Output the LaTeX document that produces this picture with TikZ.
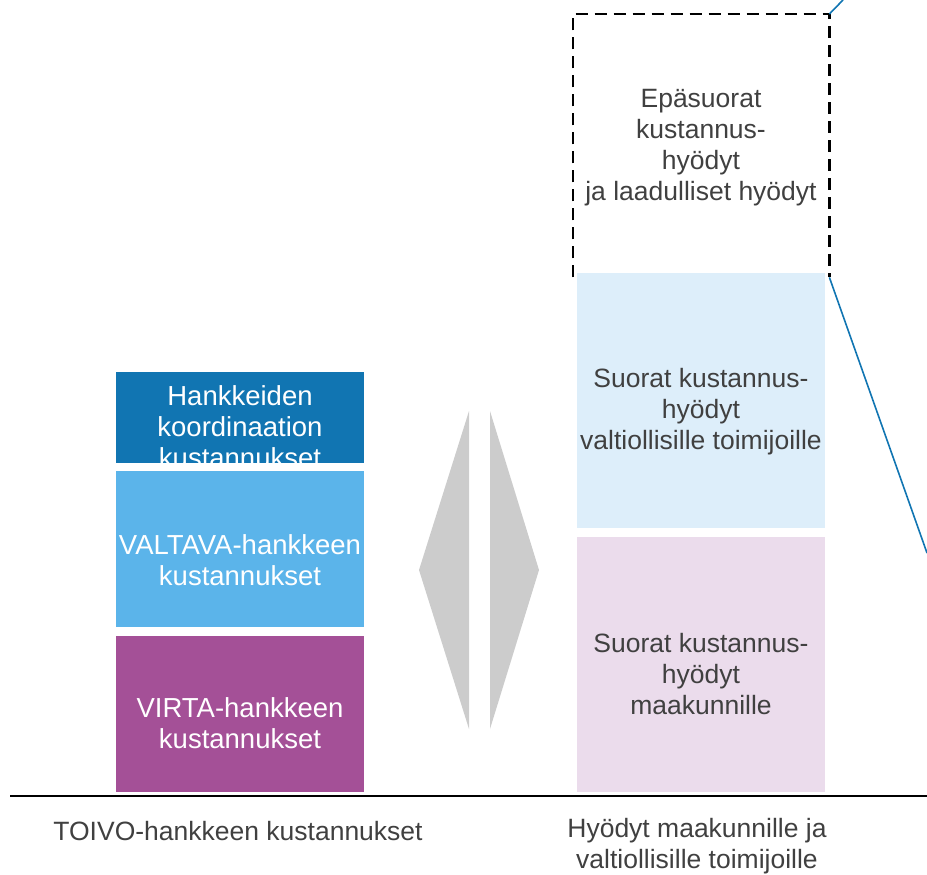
\documentclass[tikz,border=0pt]{standalone}
\usepackage{fontspec}
\setmainfont{Liberation Sans}
\definecolor{cdark}{HTML}{1175B2}
\definecolor{cmid}{HTML}{5BB4EA}
\definecolor{cpurp}{HTML}{A45097}
\definecolor{clblue}{HTML}{DDEEFA}
\definecolor{cpink}{HTML}{EBDCEC}
\definecolor{cgray}{HTML}{CCCCCC}
\definecolor{ctext}{HTML}{404040}
\definecolor{cline}{HTML}{1175B2}
\begin{document}
\begin{tikzpicture}[x=1pt,y=-1pt,
  barbox/.style={draw=none,inner sep=0pt,anchor=north west,minimum width=248pt},
  lbl/.style={align=center,inner sep=0pt,font=\fontsize{26.5}{31}\selectfont},
  lbll/.style={align=center,inner sep=0pt,font=\fontsize{27.5}{31}\selectfont},
  dashbox/.style={draw=none,inner sep=0pt,anchor=north west,minimum width=256pt,minimum height=263pt},
  dashline/.style={draw=black,line width=2.6pt,dash pattern=on 12pt off 7pt},
  link/.style={draw=cline,line width=1.6pt},
  tri/.style={fill=cgray,draw=none}]
\useasboundingbox (0,0) rectangle (927,875);
% left stack
\node[barbox,fill=cdark,minimum height=91pt] (hk) at (116,372) {};
\node[barbox,fill=cmid,minimum height=156pt] (va) at (116,471) {};
\node[barbox,fill=cpurp,minimum height=156pt] (vi) at (116,636) {};
\begin{scope}
\clip (hk.north west) rectangle (hk.south east);
\node[lbll,text=white] (hkt) at (240,427) {Hankkeiden\\koordinaation\\kustannukset};
\end{scope}
\node[lbll,text=white] (vat) at (240,560) {VALTAVA-hankkeen\\kustannukset};
\node[lbll,text=white] (vit) at (240,723) {VIRTA-hankkeen\\kustannukset};
% triangles
\fill[tri] (419,570) -- (469,411) -- (469,729) -- cycle;
\fill[tri] (539,570) -- (490,411) -- (490,729) -- cycle;
% right stack
\node[dashbox] (ep) at (573,14) {};
\draw[dashline] (ep.south west) -- (ep.north west) -- (ep.north east) -- (ep.south east);
\node[barbox,fill=clblue,minimum height=255pt] (su) at (577,273) {};
\node[barbox,fill=cpink,minimum height=255pt] (ma) at (577,537) {};
\node[lbl,text=ctext] (ept) at (701,148) {Epäsuorat\\kustannus-\\hyödyt\\ja laadulliset hyödyt};
\node[lbl,text=ctext] (sut) at (701,412) {Suorat kustannus-\\hyödyt\\valtiollisille toimijoille};
\node[lbl,text=ctext] (mat) at (701,674) {Suorat kustannus-\\hyödyt\\maakunnille};
% links
\coordinate (e1) at (843,0);
\coordinate (e2) at (927,553);
\draw[link] (ep.north east) -- (e1);
\draw[link] (ep.south east) -- (e2);
% baseline
\coordinate (b1) at (10,796);
\coordinate (b2) at (927,796);
\draw[line width=2pt,black] (b1) -- (b2);
\node[lbl,text=ctext] (l1) at (238,831) {TOIVO-hankkeen kustannukset};
\node[lbl,text=ctext] (l2) at (697,846) {Hyödyt maakunnille ja\\valtiollisille toimijoille};
\end{tikzpicture}
\end{document}
